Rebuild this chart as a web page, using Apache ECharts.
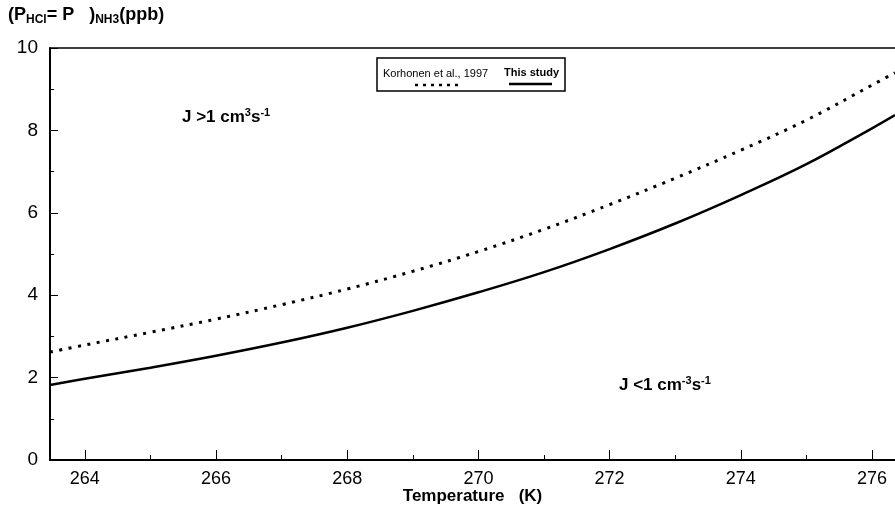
<!DOCTYPE html>
<html>
<head>
<meta charset="utf-8">
<script src="https://cdn.jsdelivr.net/npm/echarts@6/dist/echarts.min.js"></script>
<style>
html,body{margin:0;padding:0;background:#fff;}
#chart{width:895px;height:511px;}
</style>
</head>
<body>
<div id="chart"></div>
<script>
var FONT = '"Liberation Sans", Arial, sans-serif';

// temperatures (K) and curve values (ppb)
var tempK = [263.47, 264, 265, 266, 267, 268, 269, 270, 271, 272, 273, 274, 275, 276, 276.35];
var korhonen = [2.62, 2.79, 3.10, 3.42, 3.77, 4.15, 4.58, 5.06, 5.60, 6.20, 6.84, 7.52, 8.25, 9.10, 9.40];
var thisStudy = [1.82, 1.97, 2.24, 2.53, 2.85, 3.21, 3.62, 4.07, 4.56, 5.12, 5.74, 6.43, 7.18, 8.05, 8.37];

var majorTicks = [264, 266, 268, 270, 272, 274, 276];
var minorTicks = [265, 267, 269, 271, 273, 275];

function pairs(xs, ys) {
    var out = [];
    for (var i = 0; i < xs.length; i++) {
        out.push([xs[i], ys[i]]);
    }
    return out;
}

var chart = echarts.init(document.getElementById('chart'));
var xMin = 263.47, xMax = 276.35;

var option = {
    animation: false,
    backgroundColor: '#fff',
    grid: {left: 50, right: 0, top: 48, bottom: 51, outerBoundsMode: 'none', containLabel: false},
    xAxis: [
        {
            type: 'value',
            min: xMin,
            max: xMax,
            position: 'bottom',
            splitLine: {show: false},
            axisLine: {lineStyle: {color: '#000', width: 2}},
            axisTick: {inside: true, length: 10, customValues: majorTicks, lineStyle: {color: '#000', width: 1}},
            axisLabel: {
                customValues: majorTicks,
                color: '#000',
                fontSize: 18,
                fontFamily: FONT,
                margin: 10
            },
            name: 'Temperature   (K)',
            nameLocation: 'middle',
            nameGap: 28,
            nameMoveOverlap: false,
            nameTextStyle: {color: '#000', fontSize: 17, fontWeight: 'bold', fontFamily: FONT}
        },
        {
            // minor ticks on odd temperatures
            type: 'value',
            min: xMin,
            max: xMax,
            position: 'bottom',
            splitLine: {show: false},
            axisLine: {show: false},
            axisTick: {inside: true, length: 5, customValues: minorTicks, lineStyle: {color: '#000', width: 1}},
            axisLabel: {show: false}
        },
        {
            // top frame line
            type: 'value',
            min: xMin,
            max: xMax,
            position: 'top',
            splitLine: {show: false},
            axisLine: {lineStyle: {color: '#000', width: 1.5}},
            axisTick: {show: false},
            axisLabel: {show: false}
        }
    ],
    yAxis: {
        type: 'value',
        min: 0,
        max: 10,
        interval: 2,
        splitLine: {show: false},
        axisLine: {show: true, lineStyle: {color: '#000', width: 2}},
        axisTick: {show: true, inside: true, length: 8, lineStyle: {color: '#000', width: 1}},
        minorTick: {show: true, splitNumber: 2, length: 4, lineStyle: {color: '#000', width: 1}},
        axisLabel: {color: '#000', fontSize: 19, fontFamily: FONT, margin: 12}
    },
    series: [
        {
            name: 'Korhonen et al., 1997',
            type: 'line',
            smooth: 0.4,
            symbol: 'none',
            data: pairs(tempK, korhonen),
            lineStyle: {color: '#000', width: 3, type: [3, 6.5]}
        },
        {
            name: 'This study',
            type: 'line',
            smooth: 0.4,
            symbol: 'none',
            data: pairs(tempK, thisStudy),
            lineStyle: {color: '#000', width: 2.5}
        }
    ],
    graphic: [
        {
            type: 'text',
            left: 8,
            top: 6,
            style: {
                text: '(P{s|HCl}= P   ){s|NH3}(ppb)',
                fill: '#000',
                font: 'bold 18px ' + FONT,
                rich: {
                    s: {fontSize: 12, fontWeight: 'bold', fontFamily: FONT, padding: [10, 0, 0, 0]}
                }
            }
        },
        {
            type: 'text',
            left: 182,
            top: 107,
            style: {
                text: 'J >1 cm{sup|3}s{sup|-1}',
                fill: '#000',
                font: 'bold 17px ' + FONT,
                rich: {
                    sup: {fontSize: 11, fontWeight: 'bold', fontFamily: FONT, padding: [0, 0, 10, 0]}
                }
            }
        },
        {
            type: 'text',
            left: 619,
            top: 375,
            style: {
                text: 'J <1 cm{sup|-3}s{sup|-1}',
                fill: '#000',
                font: 'bold 17px ' + FONT,
                rich: {
                    sup: {fontSize: 11, fontWeight: 'bold', fontFamily: FONT, padding: [0, 0, 10, 0]}
                }
            }
        },
        // legend box
        {
            type: 'rect',
            shape: {x: 377, y: 58, width: 188, height: 33},
            style: {fill: '#fff', stroke: '#000', lineWidth: 1.5}
        },
        {
            type: 'text',
            left: 383,
            top: 68,
            style: {text: 'Korhonen et al., 1997', fill: '#000', font: '11px ' + FONT}
        },
        {
            type: 'text',
            left: 504,
            top: 67,
            style: {text: 'This study', fill: '#000', font: 'bold 11px ' + FONT}
        },
        {
            type: 'line',
            shape: {x1: 415, y1: 85, x2: 460, y2: 85},
            style: {stroke: '#000', lineWidth: 2.5, lineDash: [3, 5]}
        },
        {
            type: 'line',
            shape: {x1: 509, y1: 84, x2: 552, y2: 84},
            style: {stroke: '#000', lineWidth: 2.5}
        }
    ]
};

chart.setOption(option);
</script>
</body>
</html>
